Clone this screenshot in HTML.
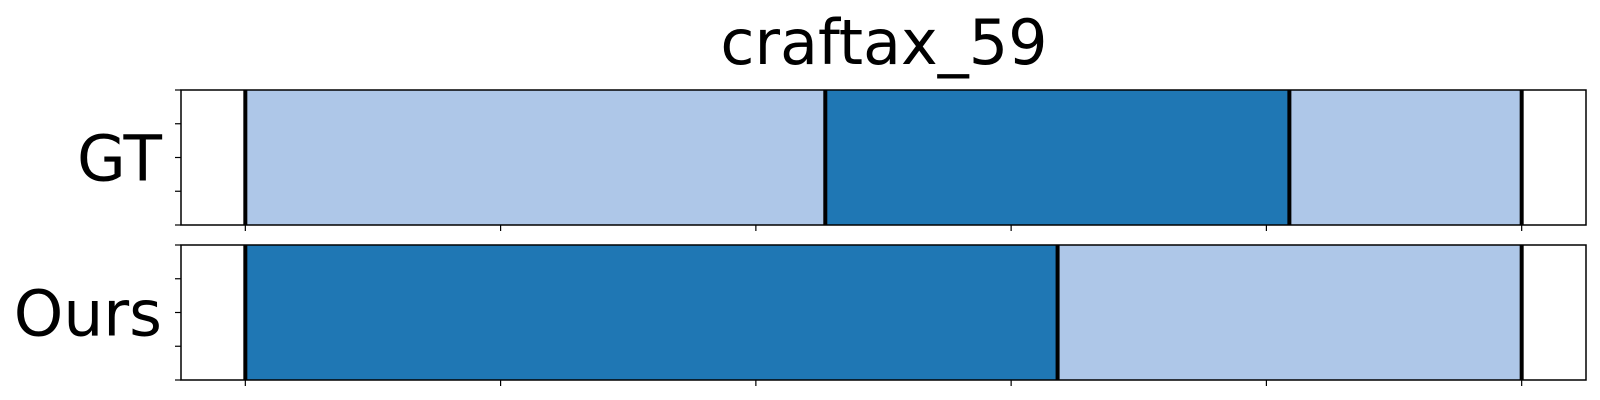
<!DOCTYPE html>
<html><head><meta charset="utf-8"><style>html,body{margin:0;background:#fff}svg{display:block}</style></head>
<body>
<svg id="chart" width="1600" height="400" xmlns="http://www.w3.org/2000/svg" font-family="'DejaVu Sans','Liberation Sans',sans-serif">
<text x="884" y="64" font-size="62" text-anchor="middle">craftax_59</text>
<g id="plot"></g>
</svg>
<script>
const rows = ["GT", "Ours"];
const gtBounds = [0, 113.6, 204.5, 250];
const gtClasses = [0, 1, 0];
const oursBounds = [0, 159.1, 250];
const oursClasses = [1, 0];
const xTicks = [0, 50, 100, 150, 200, 250];

const colors = ["#aec7e8", "#1f77b4"];
const X0 = 181, X1 = 1586, dMin = -12.6, dMax = 262.6;
function xs(v) { return X0 + (v - dMin) / (dMax - dMin) * (X1 - X0); }
const axesY = [90, 245], H = 135;
const NS = "http://www.w3.org/2000/svg";
const g = document.getElementById('plot');
function mk(tag, attrs) { const e = document.createElementNS(NS, tag); for (const k in attrs) e.setAttribute(k, attrs[k]); g.appendChild(e); return e; }
const data = [[gtBounds, gtClasses], [oursBounds, oursClasses]];
data.forEach((d, r) => {
  const top = axesY[r];
  const [b, c] = d;
  for (let i = 0; i < c.length; i++) {
    const rc = mk('rect', {x: xs(b[i]), y: top, width: xs(b[i+1]) - xs(b[i]), height: H, fill: colors[c[i]]});
    
    
  }
  b.forEach((v, i) => {
    const ln = mk('line', {x1: xs(v), x2: xs(v), y1: top, y2: top + H, stroke: '#000', 'stroke-width': 4});
    
    
  });
  const fr = mk('rect', {x: X0, y: top, width: X1 - X0, height: H, fill: 'none', stroke: '#000', 'stroke-width': 1.5});
  
  
  for (let k = 0; k < 5; k++) {
    const y = top + k * H / 4;
    const t = mk('line', {x1: X0 - 6, x2: X0, y1: y, y2: y, stroke: '#000', 'stroke-width': 1.2});
    
    
  }
  xTicks.forEach(v => {
    const t = mk('line', {x1: xs(v), x2: xs(v), y1: top + H, y2: top + H + 6, stroke: '#000', 'stroke-width': 1.2});
    
    
  });
  const lbl = mk('text', {x: 162, y: top + H / 2 + 23, 'font-size': 63, 'text-anchor': 'end'});
  lbl.textContent = rows[r];
  
  
});
</script>
</body></html>
